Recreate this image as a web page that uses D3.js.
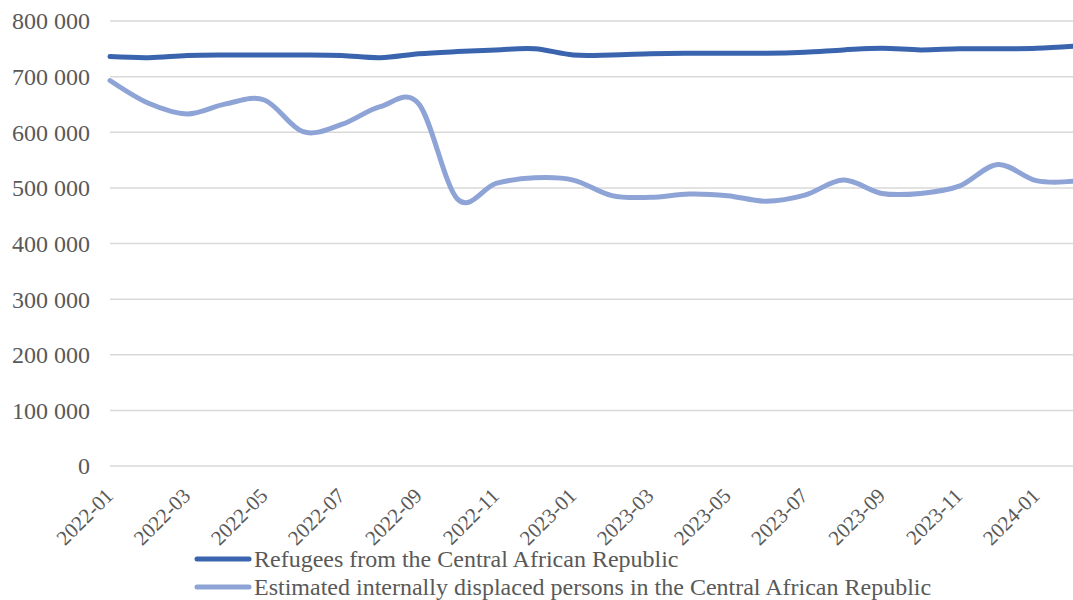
<!DOCTYPE html>
<html>
<head>
<meta charset="utf-8">
<script src="https://cdn.jsdelivr.net/npm/d3@7"></script>
<style>
  html, body { margin: 0; padding: 0; background: #fff; }
  svg { display: block; }
  svg text { font-family: "Times New Roman", "Liberation Serif", "DejaVu Serif", serif !important; fill: #595959; }
</style>
</head>
<body>
<svg id="chart" width="1073" height="600"></svg>
<script>
// Monthly figures, Jan 2022 – Feb 2024
const months = [
  "2022-01","2022-02","2022-03","2022-04","2022-05","2022-06","2022-07","2022-08",
  "2022-09","2022-10","2022-11","2022-12","2023-01","2023-02","2023-03","2023-04",
  "2023-05","2023-06","2023-07","2023-08","2023-09","2023-10","2023-11","2023-12",
  "2024-01","2024-02"
];
const refugees = [
  736000, 734000, 738000, 739000, 739000, 739000, 738000, 734000,
  741000, 745000, 748000, 750000, 739000, 739000, 741000, 742000,
  742000, 742000, 744000, 748000, 751000, 748000, 750000, 750000,
  751000, 755000
];
const idps = [
  693000, 652000, 633000, 651000, 658000, 601000, 614000, 646000,
  651000, 480000, 508000, 518000, 514000, 486000, 483000, 489000,
  486000, 476000, 487000, 514000, 490000, 490000, 503000, 542000,
  513000, 512000
];
const yTicks = [0, 100000, 200000, 300000, 400000, 500000, 600000, 700000, 800000];
const xTickLabels = months.filter((m, i) => i % 2 === 0);

const seriesNames = [
  "Refugees from the Central African Republic",
  "Estimated internally displaced persons in the Central African Republic"
];
const seriesColors = ["#3A64AE", "#8FA4D6"];

const svg = d3.select("#chart");
const serif = "'Times New Roman', 'Liberation Serif', serif";

const x = d3.scalePoint().domain(months).range([110, 110 + 38.6 * (months.length - 1)]);
const y = d3.scaleLinear().domain([0, 800000]).range([466, 21]);

const fmt = v => d3.format(",")(v).replace(/,/g, "\u00a0");

// horizontal gridlines
svg.append("g")
  .selectAll("line")
  .data(yTicks)
  .join("line")
  .attr("x1", 110).attr("x2", 1073)
  .attr("y1", d => y(d)).attr("y2", d => y(d))
  .attr("stroke", "#D9D9D9").attr("stroke-width", 1.5);

// y axis labels
const yAxis = d3.axisLeft(y).tickValues(yTicks).tickFormat(fmt).tickSize(0).tickPadding(0);
const gy = svg.append("g").attr("transform", "translate(90,0)").call(yAxis)
  .attr("font-family", serif).attr("font-size", 24);
gy.select(".domain").remove();
gy.selectAll("text")
  .attr("fill", "#595959")
  .attr("dy", "0.33em");

// x axis labels, rotated
const xAxis = d3.axisBottom(x).tickValues(xTickLabels).tickSize(0).tickPadding(0);
const gx = svg.append("g").attr("transform", "translate(0,466)").call(xAxis)
  .attr("font-family", serif).attr("font-size", 21);
gx.select(".domain").remove();
gx.selectAll("text")
  .attr("fill", "#595959")
  .attr("text-anchor", "end")
  .attr("dy", null)
  .attr("y", 0)
  .attr("transform", "translate(4,31) rotate(-45)");

// lines
const line = d3.line()
  .x((d, i) => x(months[i]))
  .y(d => y(d))
  .curve(d3.curveCardinal.tension(0));

[refugees, idps].forEach((vals, k) => {
  svg.append("path")
    .datum(vals)
    .attr("d", line)
    .attr("fill", "none")
    .attr("stroke", seriesColors[k])
    .attr("stroke-width", 5)
    .attr("stroke-linecap", "round")
    .attr("stroke-linejoin", "round");
});

// legend
const legend = svg.append("g").attr("font-family", serif).attr("font-size", 24);
seriesNames.forEach((name, k) => {
  const ly = 559 + k * 28;
  legend.append("line")
    .attr("x1", 197).attr("x2", 249)
    .attr("y1", ly).attr("y2", ly)
    .attr("stroke", seriesColors[k])
    .attr("stroke-width", 5)
    .attr("stroke-linecap", "round");
  legend.append("text")
    .attr("x", 254).attr("y", ly)
    .attr("dy", "0.33em")
    .text(name);
});
</script>
</body>
</html>
